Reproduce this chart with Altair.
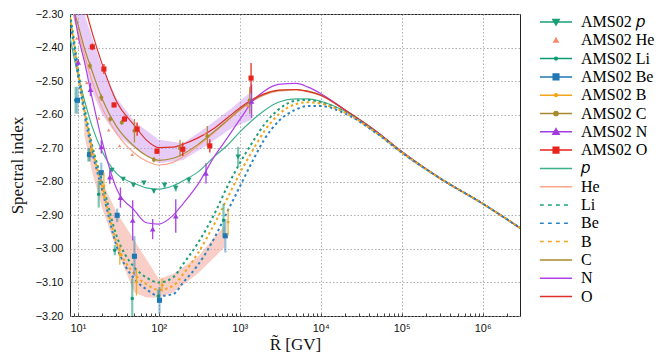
import altair as alt
import pandas as pd

# ---------------- AMS-02 data (rigidity GV, spectral index, error) ----------------
P_R = [26.4, 36.3, 48.7, 65.5, 87, 118, 162, 235, 955]
P_V = [-2.765, -2.792, -2.810, -2.803, -2.828, -2.810, -2.819, -2.795, -2.726]
P_E = [0.005, 0.005, 0.005, 0.005, 0.006, 0.01, 0.01, 0.01, 0.03]

HE_R = [9.7, 12.9, 18.1, 24, 32.7, 46.9, 190, 375, 1260]
HE_V = [-2.372, -2.504, -2.611, -2.646, -2.693, -2.719, -2.700, -2.656, -2.573]
HE_E = [0.003, 0.003, 0.003, 0.003, 0.003, 0.003, 0.005, 0.005, 0.01]

LI_R = [9.4, 13.5, 18.1, 28.6, 47, 98.6, 630]
LI_V = [-2.557, -2.720, -2.837, -3.004, -3.148, -3.141, -2.915]
LI_E = [0.04, 0.02, 0.04, 0.015, 0.06, 0.02, 0.05]

BE_R = [9.9, 14, 19.5, 30.6, 50, 102, 664]
BE_V = [-2.557, -2.719, -2.773, -2.900, -3.022, -3.153, -2.961]
BE_E = [0.04, 0.02, 0.03, 0.02, 0.06, 0.04, 0.05]

B_R = [14.7, 21, 33, 53, 110, 718]
B_V = [-2.705, -2.812, -3.017, -3.099, -3.108, -2.920]
B_E = [0.02, 0.04, 0.03, 0.04, 0.02, 0.04]

C_R = [14.1, 19.5, 25.2, 34.9, 50, 87, 183, 398, 1330]
C_V = [-2.454, -2.549, -2.613, -2.623, -2.648, -2.734, -2.700, -2.664, -2.557]
C_E = [0.01, 0.01, 0.008, 0.008, 0.035, 0.008, 0.025, 0.03, 0.04]

N_R = [10.1, 14.3, 19.5, 24.8, 33.6, 47.6, 84, 162, 383, 1400]
N_V = [-2.444, -2.525, -2.696, -2.786, -2.847, -2.915, -2.941, -2.902, -2.775, -2.560]
N_E = [0.01, 0.02, 0.02, 0.02, 0.03, 0.06, 0.03, 0.05, 0.03, 0.05]

O_R = [15.1, 21, 28, 37.7, 54, 95, 198, 427, 1380]
O_V = [-2.398, -2.464, -2.571, -2.613, -2.643, -2.709, -2.703, -2.693, -2.491]
O_E = [0.01, 0.015, 0.008, 0.008, 0.02, 0.008, 0.02, 0.02, 0.045]

# ---------------- model curves on a common rigidity grid ----------------
R_GRID = [8, 9, 10, 12, 15, 20, 30, 50, 70, 100, 150, 200, 300, 500, 700, 1000,
          1500, 2000, 3000, 5000, 7000, 1e4, 2e4, 5e4, 1e5, 3e5, 1e6, 3e6]
TAIL = [-2.652, -2.71, -2.79, -2.865, -2.94]
M_P = [-2.37, -2.43, -2.48, -2.555, -2.635, -2.71, -2.775, -2.805, -2.818, -2.822, -2.812,
       -2.797, -2.772, -2.722, -2.692, -2.652, -2.612, -2.588, -2.563, -2.553, -2.553,
       -2.56, -2.59, -2.655, -2.712, -2.79, -2.865, -2.94]
M_HE = [-2.25, -2.31, -2.35, -2.42, -2.50, -2.58, -2.655, -2.715, -2.738, -2.75, -2.742,
        -2.725, -2.695, -2.65, -2.62, -2.587, -2.557, -2.542, -2.53, -2.527, -2.532,
        -2.543, -2.587] + TAIL
M_LI = [-2.30, -2.38, -2.46, -2.575, -2.69, -2.80, -2.96, -3.055, -3.085, -3.10, -3.085,
        -3.045, -2.985, -2.89, -2.815, -2.745, -2.675, -2.63, -2.585, -2.558, -2.556,
        -2.563, -2.592, -2.655, -2.712, -2.79, -2.865, -2.94]
M_BE = [-2.32, -2.40, -2.48, -2.595, -2.71, -2.825, -2.99, -3.09, -3.12, -3.14, -3.135,
        -3.10, -3.05, -2.962, -2.89, -2.815, -2.73, -2.675, -2.62, -2.584, -2.574,
        -2.574, -2.597, -2.657, -2.713, -2.79, -2.865, -2.94]
M_B = [-2.31, -2.39, -2.47, -2.585, -2.70, -2.815, -2.98, -3.075, -3.105, -3.122, -3.11,
       -3.075, -3.015, -2.92, -2.85, -2.775, -2.70, -2.65, -2.60, -2.568, -2.563,
       -2.567, -2.594, -2.656, -2.712, -2.79, -2.865, -2.94]
M_C = [-2.22, -2.29, -2.33, -2.40, -2.47, -2.553, -2.635, -2.695, -2.722, -2.736, -2.73,
       -2.717, -2.69, -2.647, -2.617, -2.585, -2.555, -2.54, -2.528, -2.525, -2.53,
       -2.541, -2.586] + TAIL
M_N = [-2.18, -2.29, -2.36, -2.44, -2.55, -2.68, -2.82, -2.885, -2.922, -2.926, -2.90,
       -2.865, -2.81, -2.72, -2.67, -2.615, -2.555, -2.53, -2.51, -2.507, -2.518,
       -2.537, -2.586] + TAIL
M_O = [-2.10, -2.15, -2.20, -2.27, -2.355, -2.45, -2.56, -2.632, -2.675, -2.698, -2.697,
       -2.688, -2.67, -2.638, -2.61, -2.58, -2.552, -2.538, -2.527, -2.525, -2.531,
       -2.542, -2.586] + TAIL

# ---------------- uncertainty bands ----------------
BAND_CNO_R = [9, 12, 15, 20, 30, 50, 100, 200, 400, 800, 1400]
BAND_CNO_HI = [-2.22, -2.30, -2.37, -2.46, -2.55, -2.62, -2.675, -2.685, -2.635, -2.58, -2.53]
BAND_CNO_LO = [-2.30, -2.44, -2.53, -2.60, -2.66, -2.70, -2.745, -2.735, -2.69, -2.64, -2.615]

BAND_LIB_R = [12, 15, 20, 30, 50, 70, 100, 150, 300, 650]
BAND_LIB_HI = [-2.60, -2.70, -2.80, -2.89, -2.975, -3.03, -3.09, -3.075, -3.025, -2.93]
BAND_LIB_LO = [-2.66, -2.77, -2.88, -3.00, -3.13, -3.145, -3.145, -3.13, -3.075, -2.995]

# ---------------- series / styles ----------------
DATA_NAMES = ["AMS02 𝑝", "AMS02 He", "AMS02 Li", "AMS02 Be", "AMS02 B", "AMS02 C", "AMS02 N", "AMS02 O"]
MODEL_NAMES = ["𝑝", "He", "Li", "Be", "B", "C", "N", "O"]
ALL_NAMES = DATA_NAMES + MODEL_NAMES
COLORS = ["#1b9e77", "#f58a6a", "#0f9a72", "#1f77b4", "#f2a51a", "#a88a2c", "#a23be0", "#e8231c",
          "#3fb08c", "#f8a58a", "#1b9e77", "#2a83c0", "#f2a51a", "#a88a2c", "#b040e8", "#e0302a"]
DATA_SETS = [(P_R, P_V, P_E), (HE_R, HE_V, HE_E), (LI_R, LI_V, LI_E), (BE_R, BE_V, BE_E),
             (B_R, B_V, B_E), (C_R, C_V, C_E), (N_R, N_V, N_E), (O_R, O_V, O_E)]
MODEL_SETS = [M_P, M_HE, M_LI, M_BE, M_B, M_C, M_N, M_O]
DOTTED = ["Li", "Be", "B"]
MARKERS = [("triangle-down", 30), ("triangle-up", 12), ("circle", 12), ("square", 26),
           ("circle", 8), ("circle", 16), ("triangle-up", 32), ("square", 26)]
ERR_STYLE = [(2.2, 0.55), (1, 0), (2.2, 0.55), (2.2, 0.45), (1.3, 0.9), (1.3, 0.9), (1.4, 0.9), (1.4, 0.9)]

# legend symbol paths (unit = 7 px with symbolSize 196)
LINE = "M-2.3,0H2.3"
DOTS = "M-2.3,0H-1.75M-1.15,0H-0.6M0,0H0.55M1.15,0H1.7"
TRI_D = "M-0.45,-0.35L0.45,-0.35L0,0.42Z"
TRI_U = "M-0.45,0.35L0.45,0.35L0,-0.42Z"
SQ = "M-0.4,-0.4H0.4V0.4H-0.4Z"
CIRC = "M0.3,0A0.3,0.3 0 1,1 -0.3,0A0.3,0.3 0 1,1 0.3,0Z"
CIRC_S = "M0.2,0A0.2,0.2 0 1,1 -0.2,0A0.2,0.2 0 1,1 0.2,0Z"
PATHS = [LINE + TRI_D, "M-0.3,0.25L0.3,0.25L0,-0.3Z", LINE + CIRC_S, LINE + SQ, LINE + CIRC_S,
         LINE + CIRC, LINE + TRI_U, LINE + SQ,
         LINE, LINE, DOTS, DOTS, DOTS, LINE, LINE, LINE]

# ---------------- build tables ----------------
pts = []
for name, (rs, vs, es) in zip(DATA_NAMES, DATA_SETS):
    for r, v, e in zip(rs, vs, es):
        pts.append({"series": name, "R": r, "v": v, "lo": v - e, "hi": v + e})
pts = pd.DataFrame(pts)

mod = []
for name, vals in zip(MODEL_NAMES, MODEL_SETS):
    for r, v in zip(R_GRID, vals):
        mod.append({"series": name, "R": r, "v": v})
mod = pd.DataFrame(mod)

band_cno = pd.DataFrame({"R": BAND_CNO_R, "hi": BAND_CNO_HI, "lo": BAND_CNO_LO})
band_lib = pd.DataFrame({"R": BAND_LIB_R, "hi": BAND_LIB_HI, "lo": BAND_LIB_LO})

# ---------------- scales / axes ----------------
W, H = 450, 302
SERIF = "Liberation Serif"
xscale = alt.Scale(type="log", domain=[8, 2.9e6], nice=False)
yscale = alt.Scale(domain=[-3.2, -2.3], nice=False, zero=False)
cscale = alt.Scale(domain=ALL_NAMES, range=COLORS)
sscale = alt.Scale(domain=ALL_NAMES, range=PATHS)

DECADES = [10, 100, 1000, 1e4, 1e5, 1e6]
MINOR = [m * d for d in [1, 10, 100, 1000, 1e4, 1e5, 1e6] for m in range(1, 10) if 8 <= m * d <= 2.9e6]

x_major = alt.Axis(values=DECADES, title="R̃ [GV]", grid=True, ticks=False, domain=False,
                   labelPadding=6, titlePadding=3, titleFont=SERIF, titleFontSize=17,
                   titleFontWeight="normal",
                   labelExpr="'10' + ['⁰','¹','²','³','⁴','⁵','⁶','⁷'][round(log(datum.value)/LN10)]")
x_minor = alt.Axis(values=MINOR, orient="top", offset=-H, labels=False, grid=False, domain=False,
                   tickSize=3, title=None, tickColor="#444")
y_axis = alt.Axis(values=[round(-3.2 + 0.1 * i, 2) for i in range(10)], format=".2f",
                  title="Spectral index", grid=True, ticks=False, domain=False,
                  labelPadding=7, titlePadding=9, titleFont=SERIF, titleFontSize=17,
                  titleFontWeight="normal")

LEG = alt.Legend(title=None, orient="right", offset=28, symbolSize=196, labelOffset=17,
                 rowPadding=2.3, padding=0, labelFont=SERIF, labelFontSize=16,
                 symbolStrokeWidth=1.5, labelLimit=300, symbolOpacity=1)


def X(axis=None):
    return alt.X("R:Q", scale=xscale, axis=axis)


def Y(field="v"):
    return alt.Y(f"{field}:Q", scale=yscale, axis=y_axis)


layers = []
layers.append(alt.Chart(band_cno).mark_area(clip=True, color="#c98ef0", opacity=0.45).encode(
    x=X(x_major), y=Y("hi"), y2="lo"))
layers.append(alt.Chart(band_lib).mark_area(clip=True, color="#f4a597", opacity=0.55).encode(
    x=X(x_minor), y=Y("hi"), y2="lo"))

solid = mod[~mod.series.isin(DOTTED)]
dotted = mod[mod.series.isin(DOTTED)]
layers.append(alt.Chart(solid).mark_line(clip=True, strokeWidth=1.2, interpolate="monotone").encode(
    x=X(), y=Y(), stroke=alt.Stroke("series:N", scale=cscale, legend=LEG), detail="series:N"))
layers.append(alt.Chart(dotted).mark_line(clip=True, strokeWidth=2, strokeDash=[2.5, 3],
                                          interpolate="monotone").encode(
    x=X(), y=Y(), stroke=alt.Stroke("series:N", scale=cscale, legend=LEG), detail="series:N"))

for name, (shape, size), (ew, eop) in zip(DATA_NAMES, MARKERS, ERR_STYLE):
    sub = pts[pts.series == name]
    if eop > 0:
        layers.append(alt.Chart(sub).mark_rule(clip=True, strokeWidth=ew, opacity=eop).encode(
            x=X(), y=Y("lo"), y2="hi", stroke=alt.Stroke("series:N", scale=cscale, legend=LEG)))
    layers.append(alt.Chart(sub).mark_point(clip=True, filled=True, shape=shape, size=size,
                                            opacity=1).encode(
        x=X(), y=Y(), fill=alt.Fill("series:N", scale=cscale, legend=LEG)))

legend_df = pd.DataFrame({"series": ALL_NAMES})
layers.append(alt.Chart(legend_df).mark_point(clip=True, filled=True, size=196, strokeWidth=1.5).encode(
    x=alt.value(-60), y=alt.value(-60),
    fill=alt.Fill("series:N", scale=cscale, legend=LEG),
    stroke=alt.Stroke("series:N", scale=cscale, legend=LEG),
    shape=alt.Shape("series:N", scale=sscale, legend=LEG)))

chart = alt.layer(*layers).resolve_axis(x="independent").properties(
    width=W, height=H, padding={"left": 0, "top": 0, "right": 0, "bottom": 0}
).configure_view(stroke="#222", strokeWidth=1).configure_axis(
    labelFont="Liberation Sans", labelFontSize=11, labelColor="#111",
    titleFont=SERIF, titleFontSize=17, titleFontWeight="normal", titleColor="#111",
    gridColor="#9a9a9a", gridDash=[1.5, 2], gridWidth=0.8
)

chart.save("out.html", embed_options={"renderer": "svg", "actions": False})
